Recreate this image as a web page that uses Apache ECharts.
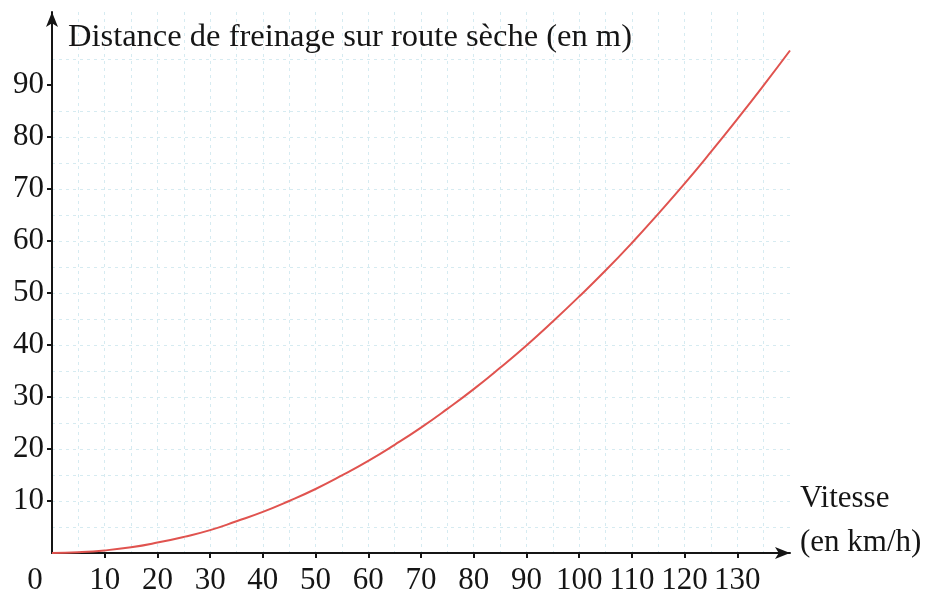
<!DOCTYPE html>
<html>
<head>
<meta charset="utf-8">
<script src="https://cdn.jsdelivr.net/npm/echarts@6/dist/echarts.min.js"></script>
<style>
  html, body { margin: 0; padding: 0; background: #fff; }
  #chart { width: 934px; height: 599px; }
</style>
</head>
<body>
<div id="chart"></div>
<script>
// vitesse (km/h) et distance de freinage (m)
const speeds = [0, 5, 10, 15, 20, 25, 30, 35, 40, 45, 50, 55, 60, 65, 70,
  75, 80, 85, 90, 95, 100, 105, 110, 115, 120, 125, 130, 135, 140]
const distances = [0, 0.15, 0.5, 1.1, 2, 3.1, 4.4, 6.1, 7.9, 10, 12.3, 14.9, 17.7, 20.8, 24.1,
  27.7, 31.5, 35.6, 39.9, 44.5, 49.3, 54.3, 59.6, 65.2, 71, 77.1, 83.4, 89.9, 96.6]
const xTickLabels = [0, 10, 20, 30, 40, 50, 60, 70, 80, 90, 100, 110, 120, 130]
const yTickLabels = [10, 20, 30, 40, 50, 60, 70, 80, 90]

const font = '"Liberation Serif", "DejaVu Serif", serif'
const ink = '#151515'
const gridLine = {
  lineStyle: { color: '#d6ebf1', width: 1, type: [3, 4] }
}

const myChart = echarts.init(document.getElementById('chart'))
myChart.setOption({
  animation: false,
  grid: { left: 52, right: 144, top: 12, bottom: 46, outerBoundsMode: 'none', containLabel: false },
  xAxis: {
    type: 'value',
    min: 0,
    max: 140,
    interval: 10,
    // la ligne vide {s| } remonte le nom au-dessus de l'axe
    name: '{a|Vitesse}\n{a|(en km/h)}\n{s| }',
    nameLocation: 'end',
    nameGap: 10,
    nameTextStyle: {
      fontFamily: font, fontSize: 31, color: ink,
      align: 'left', verticalAlign: 'middle',
      rich: {
        a: { fontFamily: font, fontSize: 31, color: ink, lineHeight: 44 },
        s: { fontSize: 10, lineHeight: 64 }
      }
    },
    axisLine: {
      onZero: false,
      symbol: ['none', 'arrow'],
      symbolSize: [9, 15],
      lineStyle: { color: ink, width: 2 }
    },
    axisTick: {
      customValues: xTickLabels.slice(1),
      length: 5,
      lineStyle: { color: ink, width: 2 }
    },
    axisLabel: {
      customValues: xTickLabels,
      margin: 12,
      fontFamily: font, fontSize: 31, color: ink,
      formatter: v => v === 0 ? '{z|0}' : String(v),
      rich: { z: { fontFamily: font, fontSize: 31, color: ink, padding: [0, 34, 0, 0] } }
    },
    splitLine: { show: true, ...gridLine },
    minorTick: { show: false, splitNumber: 2 },
    minorSplitLine: { show: true, ...gridLine }
  },
  yAxis: {
    type: 'value',
    min: 0,
    max: 104,
    interval: 10,
    name: 'Distance de freinage sur route sèche (en m)',
    nameLocation: 'end',
    nameGap: -9,
    nameTextStyle: {
      fontFamily: font, fontSize: 32.5, color: ink,
      align: 'left', verticalAlign: 'top',
      padding: [0, 0, 0, 16]
    },
    axisLine: {
      onZero: false,
      symbol: ['none', 'arrow'],
      symbolSize: [9, 15],
      lineStyle: { color: ink, width: 2 }
    },
    axisTick: {
      customValues: yTickLabels,
      length: 5,
      lineStyle: { color: ink, width: 2 }
    },
    axisLabel: {
      customValues: yTickLabels,
      margin: 8,
      fontFamily: font, fontSize: 31, color: ink
    },
    splitLine: { show: true, showMaxLine: false, ...gridLine },
    minorTick: { show: false, splitNumber: 2 },
    minorSplitLine: { show: true, ...gridLine }
  },
  series: [{
    type: 'line',
    data: speeds.map((s, i) => [s, distances[i]]),
    smooth: true,
    symbol: 'none',
    lineStyle: { color: '#e0534f', width: 2 }
  }]
})
</script>
</body>
</html>
